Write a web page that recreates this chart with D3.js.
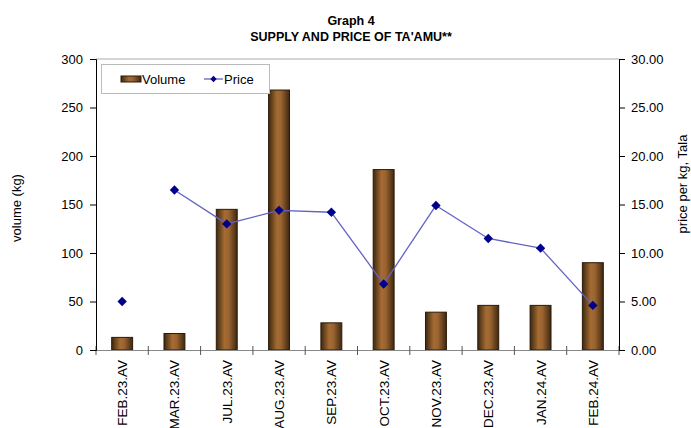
<!DOCTYPE html>
<html><head><meta charset="utf-8">
<script src="https://cdn.jsdelivr.net/npm/d3@7"></script>
<style>body{margin:0;background:#fff}svg{display:block}text{font-family:"Liberation Sans",Arial,sans-serif}</style>
</head><body>
<svg id="c" width="691" height="428"></svg>
<script>
const categories = ["FEB.23.AV","MAR.23.AV","JUL.23.AV","AUG.23.AV","SEP.23.AV","OCT.23.AV","NOV.23.AV","DEC.23.AV","JAN.24.AV","FEB.24.AV"];
const volume = [13, 17, 145, 268, 28, 186, 39, 46, 46, 90];
const price = [5.0, 16.5, 13.0, 14.4, 14.2, 6.8, 14.9, 11.5, 10.5, 4.6];
const priceConnected = [false, false, true, true, true, true, true, true, true, true];
const volTicks = [0, 50, 100, 150, 200, 250, 300];
const priceTicks = [0, 5, 10, 15, 20, 25, 30];

const svg = d3.select("#c");
const L = 96, R = 619, T = 59, B = 350;
const x = d3.scaleBand().domain(categories).range([L, R]).paddingInner(0.6).paddingOuter(0.3);
const xb = d3.scaleBand().domain(categories).range([L, R]);
const yV = d3.scaleLinear().domain([0, 300]).range([B, T]);
const yP = d3.scaleLinear().domain([0, 30]).range([B, T]);

const defs = svg.append("defs");
const g = defs.append("linearGradient").attr("id", "bg").attr("x1", 0).attr("x2", 1).attr("y1", 0).attr("y2", 0);
g.append("stop").attr("offset", "0%").attr("stop-color", "#3e2810");
g.append("stop").attr("offset", "40%").attr("stop-color", "#a56c33");
g.append("stop").attr("offset", "60%").attr("stop-color", "#9a6330");
g.append("stop").attr("offset", "100%").attr("stop-color", "#3e2810");

// title
svg.append("text").attr("x", 351).attr("y", 25).attr("text-anchor", "middle").attr("font-size", 12.5).attr("font-weight", "bold").text("Graph 4");
svg.append("text").attr("x", 351).attr("y", 41).attr("text-anchor", "middle").attr("font-size", 12.5).attr("font-weight", "bold").text("SUPPLY AND PRICE OF TA'AMU**");

// frame top
svg.append("line").attr("x1", L).attr("x2", R).attr("y1", T).attr("y2", T).attr("stroke", "#aaa");

// bars
svg.selectAll("rect.bar").data(categories).enter().append("rect")
  .attr("x", d => x(d)).attr("width", x.bandwidth())
  .attr("y", (d, i) => yV(volume[i])).attr("height", (d, i) => B - yV(volume[i]))
  .attr("fill", "url(#bg)").attr("stroke", "#2a1a08").attr("stroke-width", 1);

// bottom axis
const xAxis = d3.axisBottom(xb).tickSize(0).tickFormat("");
const gx = svg.append("g").attr("transform", `translate(0,${B})`).call(xAxis);
gx.select(".domain").attr("stroke", "#888");
svg.selectAll("line.xt").data(d3.range(categories.length + 1)).enter().append("line")
  .attr("x1", i => L + i * xb.step()).attr("x2", i => L + i * xb.step())
  .attr("y1", B - 4).attr("y2", B + 5).attr("stroke", "#555");
svg.selectAll("text.xl").data(categories).enter().append("text")
  .attr("transform", d => `translate(${xb(d) + xb.bandwidth() / 2 + 5},360) rotate(-90)`)
  .attr("text-anchor", "end").attr("font-size", 13.5).attr("fill", "#000").text(d => d);

// left axis
const gl = svg.append("g").attr("transform", `translate(${L},0)`)
  .call(d3.axisLeft(yV).tickValues(volTicks).tickSize(6).tickFormat(d3.format("d")));
gl.select(".domain").attr("stroke", "#000");
gl.selectAll(".tick line").attr("stroke", "#000");
gl.selectAll(".tick text").attr("font-size", 13).attr("font-family", "Liberation Sans, Arial, sans-serif").attr("x", -13).attr("fill", "#000");
// right axis
const gr = svg.append("g").attr("transform", `translate(${R},0)`)
  .call(d3.axisRight(yP).tickValues(priceTicks).tickSize(6).tickFormat(d3.format(".2f")));
gr.select(".domain").attr("stroke", "#000");
gr.selectAll(".tick line").attr("stroke", "#000");
gr.selectAll(".tick text").attr("font-size", 13).attr("font-family", "Liberation Sans, Arial, sans-serif").attr("x", 12).attr("fill", "#000");

// axis titles
svg.append("text").attr("transform", "translate(21,208) rotate(-90)").attr("text-anchor", "middle").attr("font-size", 13).text("volume (kg)");
svg.append("text").attr("transform", "translate(687,184) rotate(-90)").attr("text-anchor", "middle").attr("font-size", 13).text("price per kg, Tala");

// price line
const cx = (d) => xb(d) + xb.bandwidth() / 2;
const pts = categories.map((c, i) => ({c, v: price[i], con: priceConnected[i]}));
const line = d3.line().x(d => cx(d.c)).y(d => yP(d.v));
for (let i = 1; i < pts.length; i++) {
  if (pts[i].con) svg.append("path").attr("d", line([pts[i - 1], pts[i]])).attr("fill", "none").attr("stroke", "#6262c4").attr("stroke-width", 1.3);
}
const sq = d3.symbol().type(d3.symbolSquare).size(44);
svg.selectAll("path.m").data(pts).enter().append("path")
  .attr("d", sq).attr("transform", d => `translate(${cx(d.c)},${yP(d.v)}) rotate(45)`).attr("fill", "#00008b");

// legend
const lg = svg.append("g");
lg.append("rect").attr("x", 101.5).attr("y", 64.5).attr("width", 168).attr("height", 29).attr("fill", "#fff").attr("stroke", "#bbb");
lg.append("rect").attr("x", 121).attr("y", 76).attr("width", 20).attr("height", 6).attr("fill", "url(#bg)").attr("stroke", "#2a1a08");
lg.append("text").attr("x", 142).attr("y", 84).attr("font-size", 13).text("Volume");
lg.append("line").attr("x1", 204).attr("x2", 223).attr("y1", 79).attr("y2", 79).attr("stroke", "#6262c4").attr("stroke-width", 1.3);
lg.append("path").attr("d", d3.symbol().type(d3.symbolSquare).size(20)).attr("transform", "translate(213.5,79) rotate(45)").attr("fill", "#00008b");
lg.append("text").attr("x", 224).attr("y", 84).attr("font-size", 13).text("Price");
</script>
</body></html>
